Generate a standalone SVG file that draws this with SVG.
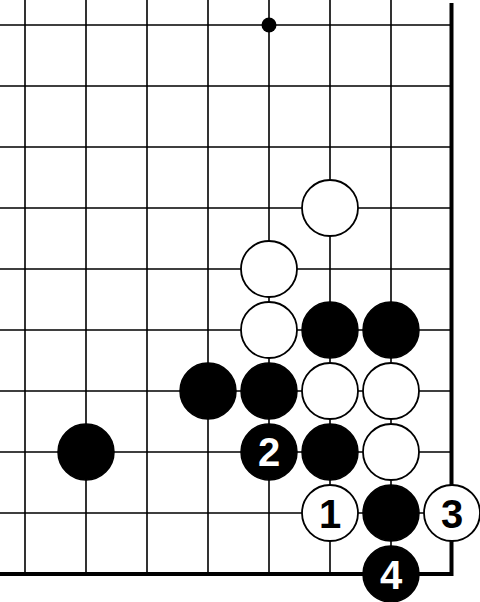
<svg xmlns="http://www.w3.org/2000/svg" width="480" height="602" viewBox="0 0 480 602">
<style>
.g{stroke:#000;stroke-width:1.6;fill:none}
.e{stroke:#000;stroke-width:4;fill:none}
.b{fill:#000;stroke:#000;stroke-width:1.5}
.w{fill:#fff;stroke:#000;stroke-width:1.8}
.tb{font-family:"Liberation Sans",Arial,sans-serif;font-weight:bold;font-size:40px;text-anchor:middle;fill:#fff}
.tw{font-family:"Liberation Sans",Arial,sans-serif;font-weight:bold;font-size:40px;text-anchor:middle;fill:#000}
</style>
<rect width="480" height="602" fill="#fff"/>
<g id="grid">
<path class="g" d="M25 0V574M86 0V574M147 0V574M208 0V574M269 0V574M330 0V574M391 0V574"/>
<path class="g" d="M0 25H452M0 86H452M0 147H452M0 208H452M0 269H452M0 330H452M0 391H452M0 452H452M0 513H452"/>
<path class="e" d="M451.5 3V576M0 574H453.5"/>
<circle cx="269" cy="25" r="7.5" fill="#000"/>
</g>
<g id="white-stones">
<circle class="w" cx="330" cy="208" r="28"/>
<circle class="w" cx="269" cy="269" r="28"/>
<circle class="w" cx="269" cy="330" r="28"/>
<circle class="w" cx="330" cy="391" r="28"/>
<circle class="w" cx="391" cy="391" r="28"/>
<circle class="w" cx="391" cy="452" r="28"/>
</g>
<g id="black-stones">
<circle class="b" cx="330" cy="330" r="28"/>
<circle class="b" cx="391" cy="330" r="28"/>
<circle class="b" cx="208" cy="391" r="28"/>
<circle class="b" cx="269" cy="391" r="28"/>
<circle class="b" cx="330" cy="452" r="28"/>
<circle class="b" cx="391" cy="513" r="28"/>
<circle class="b" cx="86" cy="452" r="28"/>
</g>
<g id="move1"><circle class="w" cx="330" cy="513" r="28"/><text class="tw" x="330" y="528">1</text></g>
<g id="move2"><circle class="b" cx="269" cy="452" r="28"/><text class="tb" x="269" y="466">2</text></g>
<g id="move3"><circle class="w" cx="452" cy="513" r="28"/><text class="tw" x="452" y="528">3</text></g>
<g id="move4"><circle class="b" cx="391" cy="574" r="28"/><text class="tb" x="391" y="589">4</text></g>
</svg>
